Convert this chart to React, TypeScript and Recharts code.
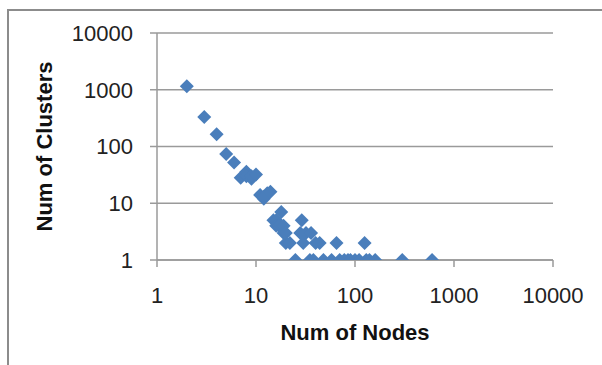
import { ScatterChart, Scatter, XAxis, YAxis, CartesianGrid } from 'recharts'

// Num of Nodes (x) and Num of Clusters (y)
const nodeCounts = [
  2, 3, 4, 5, 6, 7, 8, 8, 9, 9, 10, 11, 12, 12, 13, 14, 15, 16, 16, 17, 18, 18, 19, 19, 20, 20, 22,
  25, 28, 29, 30, 32, 35, 36, 38, 40, 44, 48, 58, 65, 70, 78, 85, 90, 100, 110, 125, 130, 140, 160,
  300, 600,
]
const clusterCounts = [
  1150, 330, 165, 74, 52, 28, 36, 30, 27, 30, 32, 14, 12, 13, 15, 16, 5, 5, 4, 4, 7, 4, 4, 3, 2, 3, 2,
  1, 3, 5, 2, 3, 1, 3, 1, 2, 2, 1, 1, 2, 1, 1, 1, 1, 1, 1, 2, 1, 1, 1,
  1, 1,
]
const xTicks = [1, 10, 100, 1000, 10000]
const yTicks = [1, 10, 100, 1000, 10000]

const data = nodeCounts.map((n, i) => ({ nodes: n, clusters: clusterCounts[i] }))

const FONT = '"Liberation Sans", Arial, sans-serif'
const BLUE = '#4A7EBB'
const GRID = '#9a9a9a'

const Diamond = (props: any) => {
  const { cx, cy } = props
  const r = 7
  return (
    <polygon
      points={`${cx},${cy - r} ${cx + r},${cy} ${cx},${cy + r} ${cx - r},${cy}`}
      fill={BLUE}
    />
  )
}

export default function App() {
  return (
    <div style={{ position: 'absolute', left: 0, top: 0, width: 602, height: 365, background: '#fff' }}>
      {/* chart frame, only left and top edges show in the crop */}
      <div
        style={{
          position: 'absolute',
          left: 7,
          top: 9,
          width: 602,
          height: 365,
          borderLeft: '2px solid #8c8c8c',
          borderTop: '2px solid #8c8c8c',
        }}
      />
      <div style={{ position: 'absolute', left: 0, top: 0 }}>
        <ScatterChart width={602} height={365} margin={{ top: 33, right: 49, bottom: 0, left: 0 }}>
          <CartesianGrid vertical={false} stroke={GRID} strokeWidth={1.5} />
          <XAxis
            dataKey="nodes"
            type="number"
            scale="log"
            domain={[1, 10000]}
            ticks={xTicks}
            allowDataOverflow
            height={105}
            stroke={GRID}
            strokeWidth={1.5}
            tickSize={7}
            tickMargin={20}
            tick={{ fill: '#222', fontSize: 22, fontFamily: FONT }}
            label={{
              value: 'Num of Nodes',
              position: 'insideBottom',
              offset: 25,
              style: { fill: '#111', fontSize: 22, fontWeight: 'bold', fontFamily: FONT },
            }}
          />
          <YAxis
            dataKey="clusters"
            type="number"
            scale="log"
            domain={[1, 10000]}
            ticks={yTicks}
            allowDataOverflow
            width={157}
            stroke={GRID}
            strokeWidth={1.5}
            tickSize={7}
            tickMargin={17}
            tick={{ fill: '#222', fontSize: 22, fontFamily: FONT }}
            label={{
              value: 'Num of Clusters',
              angle: -90,
              position: 'insideLeft',
              offset: 44,
              style: { fill: '#111', fontSize: 22, fontWeight: 'bold', fontFamily: FONT, textAnchor: 'middle' },
            }}
          />
          <Scatter data={data} shape={<Diamond />} isAnimationActive={false} />
        </ScatterChart>
      </div>
    </div>
  )
}
